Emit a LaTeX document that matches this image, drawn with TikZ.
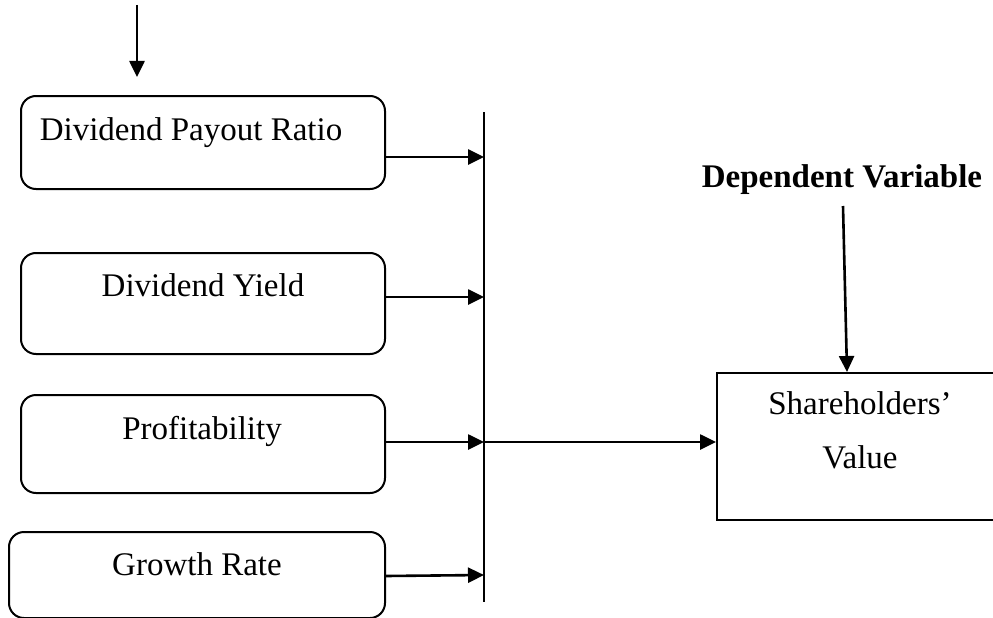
\documentclass[tikz,border=0pt]{standalone}
\usepackage{fontspec}
\setmainfont{Liberation Serif}
\usetikzlibrary{arrows.meta}
\begin{document}
\begin{tikzpicture}[x=1pt,y=-1pt,
  box/.style={draw,line width=2pt,rounded corners=15pt,inner sep=0pt},
  sqbox/.style={draw,line width=2pt,inner sep=0pt},
  lbl/.style={anchor=base,inner sep=0pt,font=\fontsize{33}{38}\selectfont},
  arr/.style={line width=2.6pt,-{Triangle[length=16pt,width=15pt]}},
  bus/.style={line width=2pt}]
\useasboundingbox (0,0) rectangle (993,618);
% input boxes
\node[box,minimum width=364pt,minimum height=93pt] (b1) at (203,142.5) {};
\node[box,minimum width=364pt,minimum height=101pt] (b2) at (203,303.5) {};
\node[box,minimum width=364pt,minimum height=98pt] (b3) at (203,444) {};
\node[box,minimum width=376pt,minimum height=86pt] (b4) at (197,575) {};
\node[lbl] (t1) at (191,140) {Dividend Payout Ratio};
\node[lbl] (t2) at (203,296) {Dividend Yield};
\node[lbl] (t3) at (202,439) {Profitability};
\node[lbl] (t4) at (197,575) {Growth Rate};
% output box
\node[sqbox,minimum width=290pt,minimum height=147pt] (s) at (862,446.5) {};
\node[lbl] (s1) at (860,414) {Shareholders’};
\node[lbl] (s2) at (860,468) {Value};
\node[lbl,font=\fontsize{33}{38}\selectfont\bfseries] (dv) at (842,187) {Dependent Variable};
% bus line
\coordinate (bt) at (484,112);
\coordinate (bb) at (484,602);
\draw[bus] (bt) -- (bb);
% top arrow
\coordinate (ta) at (137,5);
\coordinate (tb) at (137,77);
\draw[arr] (ta) -- (tb);
% arrows into bus
\draw[arr] (b1.east |- 0,157) -- (bt |- 0,157);
\draw[arr] (b2.east |- 0,297) -- (bt |- 0,297);
\draw[arr] (b3.east |- 0,442) -- (bt |- 0,442);
\draw[arr] (b4.east |- 0,576) -- (bt |- 0,575);
% main arrow
\draw[arr] (bt |- 0,442) -- (s.west |- 0,442);
% dependent arrow
\coordinate (da) at (843,206);
\draw[arr] (da) -- (s.north -| 847,0);
\end{tikzpicture}
\end{document}
